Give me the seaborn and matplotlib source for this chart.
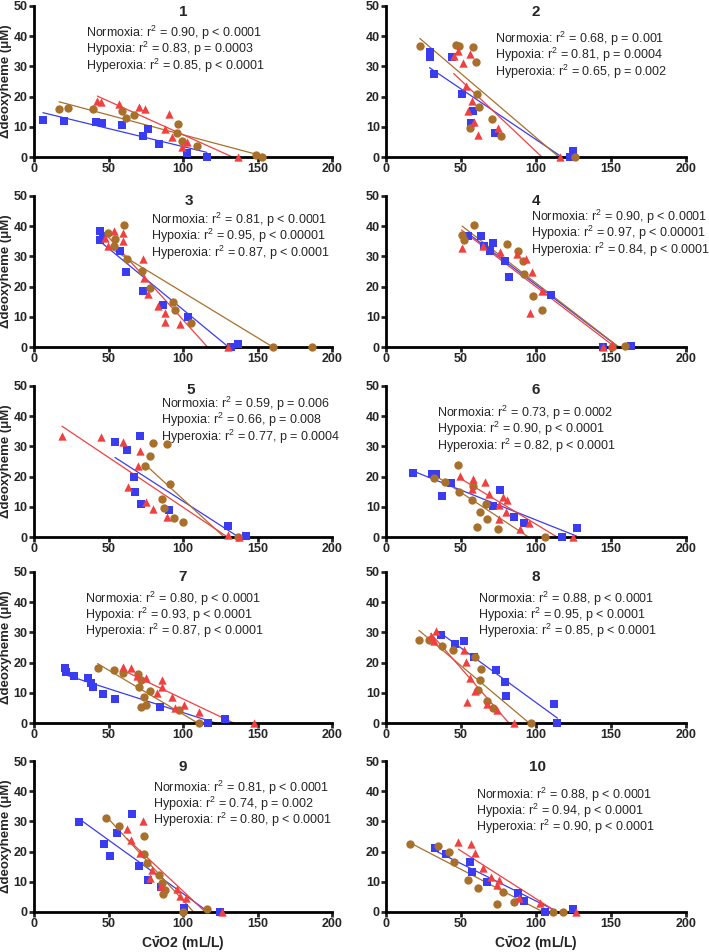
import matplotlib
matplotlib.use("Agg")
import matplotlib.pyplot as plt
import numpy as np
import pandas as pd
import seaborn as sns

# blue squares, brown circles, red triangles -- one sublist per panel (1..10)
square_x = [
    [6, 20, 41.4, 45.9, 59, 73, 76.7, 84, 102.5, 116],
    [29, 29.6, 31.9, 43.8, 50.4, 57.7, 56.4, 72.8, 122.8, 124.6],
    [44.1, 44.1, 46.3, 57.5, 62, 73.2, 86.8, 103.6, 132, 136.7],
    [54.9, 63.6, 65.6, 69.1, 71.1, 79.6, 82.2, 110.2, 144.7, 163.1],
    [54.4, 62.6, 71.1, 67.1, 67.8, 71.8, 90.8, 130, 142.3],
    [17.8, 30.9, 33.3, 37.6, 43.1, 71.1, 76, 85.1, 91.8, 117.6, 127.1],
    [20.8, 21.7, 26.6, 36.5, 38, 39.4, 46.3, 54.4, 84.6, 117, 128.2],
    [36.9, 45.9, 51.7, 58.4, 73.6, 79.6, 80.3, 111.9, 114.3],
    [30.4, 47, 51.2, 55.7, 65.8, 70.5, 76.7, 85, 100.4, 124.8],
    [32.4, 40.3, 56.2, 57.3, 67.3, 88.1, 92.2, 106.3, 124.8],
]
square_y = [
    [12.1, 11.9, 11.6, 11.3, 10.7, 6.9, 9.3, 4.3, 1.2, 0],
    [33.1, 34.8, 27.6, 33.1, 20.7, 15.2, 11.1, 7.8, 0, 2.1],
    [38.5, 35.4, 36.9, 31.7, 24.7, 18.4, 13.8, 10.0, 0, 1.1],
    [36.7, 36.9, 33.3, 31.7, 34.6, 28.4, 23.1, 17.1, 0, 0.4],
    [31.3, 28.7, 33.4, 19.8, 14.8, 10.9, 8.8, 3.8, 0.2],
    [21.2, 21.0, 20.8, 13.7, 18.0, 10.2, 15.7, 6.6, 4.7, 0, 3.0],
    [18.1, 17.0, 15.4, 15.0, 13.4, 12.0, 9.6, 7.8, 5.3, 0.1, 1.3],
    [29.3, 26.0, 27.2, 21.7, 17.5, 13.5, 8.9, 6.2, 0.1],
    [29.7, 22.6, 18.4, 26.3, 32.5, 15.1, 10.6, 8.4, 1.2, 0],
    [21.3, 19.3, 16.4, 13.3, 9.9, 6.2, 3.6, 0, 1.1],
]
circle_x = [
    [16.8, 22.8, 39.6, 59, 62, 67.3, 96.6, 95.7, 99.6, 109.4, 148.8, 153],
    [22.5, 46.9, 48.9, 58, 60, 60.8, 61.9, 56, 70.8, 76.8, 126.3],
    [49.7, 54.1, 53.9, 60.6, 62.6, 72.7, 77.9, 93.3, 94.9, 105.1, 160.2, 186.8],
    [50.7, 52, 58.9, 80.9, 88.2, 91.3, 92, 98, 104.2, 150.7, 159.3],
    [80.1, 89.3, 77.6, 74.7, 91, 86.1, 87, 93.7, 99.8, 137.1],
    [31.8, 39.6, 48.2, 48.7, 57.1, 57.8, 62.4, 66.4, 67.1, 60.9, 74.7, 106],
    [42.7, 53.5, 60, 70, 71.6, 70.7, 77.9, 74, 75.5, 71.6, 97.3, 110.7],
    [21.9, 28.9, 37.6, 44.5, 59.3, 63.3, 62.9, 61.1, 67.6, 71.6, 96.9],
    [48.3, 57, 73.6, 73.8, 75.6, 83.7, 85.9, 86.4, 88.1, 100, 116.1],
    [15.7, 34.7, 41.8, 45.6, 54.8, 61.1, 78.3, 73.8, 85, 111, 117.7],
]
circle_y = [
    [16.0, 16.2, 15.9, 15.1, 12.8, 14.0, 11.0, 7.9, 5.3, 3.5, 0.8, 0],
    [36.8, 37.0, 36.8, 36.5, 31.4, 20.9, 16.4, 9.7, 12.6, 6.9, 0],
    [37.6, 35.7, 33.4, 40.3, 29.2, 25.1, 19.6, 14.8, 12.3, 7.8, 0, 0],
    [37.1, 35.4, 40.4, 34.0, 31.7, 28.4, 24.3, 17.0, 12.3, 0, 0.4],
    [31.1, 30.7, 26.7, 23.5, 17.4, 12.5, 9.5, 6.4, 5.0, 0],
    [19.6, 18.3, 23.8, 14.9, 12.4, 17.0, 8.3, 10.9, 6.0, 3.4, 2.6, 0],
    [18.2, 17.7, 16.7, 16.1, 14.4, 12.0, 10.5, 8.6, 5.9, 5.3, 4.3, 0],
    [27.4, 27.5, 25.4, 24.1, 21.7, 17.8, 14.2, 10.8, 7.3, 5.0, 0],
    [31.1, 28.6, 25.3, 19.3, 16.1, 12.3, 9.6, 6.1, 7.2, 0, 1.0],
    [22.6, 21.7, 19.8, 16.5, 10.7, 8.0, 6.7, 2.5, 3.2, 0, 0],
]
triangle_x = [
    [42.5, 45.2, 56.8, 70.5, 74.7, 90.6, 88.1, 92.8, 99.6, 103, 136.7],
    [48, 45.1, 55.8, 51.3, 53.5, 57.5, 54.6, 58.6, 61.3, 74.6, 115.7],
    [47.9, 49.9, 53.9, 60, 60, 72.9, 73.8, 76.5, 83, 87.9, 88.1, 97.8, 130],
    [50.4, 64.9, 76, 87.3, 93.3, 97.1, 103.8, 95.8, 150.4, 144.7],
    [18.8, 45, 59.7, 71.4, 69.6, 62.9, 74.9, 79.9, 89, 130.2, 137.8],
    [49.3, 58.2, 57.1, 66, 68.9, 78, 80.7, 75, 79.8, 75.6, 89.3, 95.6, 124.9],
    [59.5, 64.9, 75.4, 69.4, 85.9, 85.7, 82.8, 92.8, 94.6, 100.4, 110.7, 147.9],
    [29.8, 33.1, 32, 51.7, 53, 56.2, 59.5, 54.1, 67.3, 74, 85.5],
    [62.4, 65.3, 70.9, 73.4, 79.4, 77.9, 85.2, 95.7, 98, 101.8, 126.4],
    [48.3, 56.4, 59, 64.4, 70.2, 75.4, 73.8, 88.4, 102.5, 126.8],
]
triangle_y = [
    [18.6, 18.1, 17.5, 16.6, 15.9, 14.4, 9.4, 6.7, 3.3, 5.1, 0],
    [35.1, 33.5, 34.0, 31.1, 23.5, 18.6, 15.2, 11.7, 7.3, 9.6, 0],
    [36.2, 33.5, 38.4, 37.6, 35.1, 29.1, 23.0, 17.4, 13.7, 11.1, 8.4, 7.6, 0],
    [32.7, 33.6, 31.3, 30.7, 29.3, 25.0, 18.7, 11.2, 0.7, 0],
    [33.4, 33.1, 31.3, 28.5, 23.5, 16.4, 11.7, 9.4, 6.7, 0.6, 0],
    [20.2, 19.3, 16.0, 18.3, 14.3, 13.1, 12.2, 10.7, 8.2, 6.0, 2.8, 4.5, 0],
    [18.5, 18.3, 15.0, 15.6, 14.2, 11.9, 9.8, 8.6, 5.0, 5.9, 3.6, 0],
    [28.7, 30.3, 27.0, 24.2, 20.2, 15.0, 10.7, 6.9, 6.3, 4.2, 0],
    [27.4, 23.7, 19.5, 30.0, 13.9, 11.3, 8.7, 7.5, 5.2, 4.6, 0],
    [23.1, 22.4, 19.6, 14.6, 11.7, 10.5, 8.8, 4.5, 3.1, 0],
]

normoxia_r2 = [0.90, 0.68, 0.81, 0.90, 0.59, 0.73, 0.80, 0.88, 0.81, 0.88]
normoxia_p = ["< 0.0001", "= 0.001", "< 0.0001", "< 0.0001", "= 0.006",
              "= 0.0002", "< 0.0001", "< 0.0001", "< 0.0001", "< 0.0001"]
hypoxia_r2 = [0.83, 0.81, 0.95, 0.97, 0.66, 0.90, 0.93, 0.95, 0.74, 0.94]
hypoxia_p = ["= 0.0003", "= 0.0004", "< 0.00001", "< 0.00001", "= 0.008",
             "< 0.0001", "< 0.0001", "< 0.0001", "= 0.002", "< 0.0001"]
hyperoxia_r2 = [0.85, 0.65, 0.87, 0.84, 0.77, 0.82, 0.87, 0.85, 0.80, 0.90]
hyperoxia_p = ["< 0.0001", "= 0.002", "< 0.0001", "< 0.0001", "= 0.0004",
               "< 0.0001", "< 0.0001", "< 0.0001", "< 0.0001", "< 0.0001"]

panel_labels = [str(i) for i in range(1, 11)]

# layout (pixels of a 709x952 figure) and text anchors (data units)
ROW_TOP = [6, 196, 386, 572, 761]
COL_LEFT = [34, 386]
AX_W = [298, 300]
AX_H = 151
TITLE_X = [100, 100, 104, 100, 105, 100, 100, 100, 100, 101]
TITLE_Y = [48.0, 48.0, 48.3, 48.3, 48.6, 48.6, 48.3, 48.3, 48.0, 48.0]
STATS_XY = [(34.7, 41), (72.8, 39), (78.7, 42), (96.4, 43), (85.5, 44.0),
            (34.2, 41), (34.2, 41.1), (61.5, 41.1), (80.1, 41.1), (60.2, 38.9)]

BLUE = "#3a3cf2"
BROWN = "#a8702a"
RED = "#f04040"

sns.set_style("ticks")
plt.rcParams["font.family"] = ["Liberation Sans", "DejaVu Sans"]
plt.rcParams["mathtext.fontset"] = "custom"
plt.rcParams["mathtext.rm"] = "Liberation Sans"
plt.rcParams["mathtext.it"] = "Liberation Sans:italic"
plt.rcParams["mathtext.bf"] = "Liberation Sans:bold"
plt.rcParams["mathtext.default"] = "regular"

W, H = 709, 952
fig = plt.figure(figsize=(W / 100, H / 100), dpi=100)

series = [
    (square_x, square_y, "s", BLUE),
    (circle_x, circle_y, "o", BROWN),
    (triangle_x, triangle_y, "^", RED),
]

for i in range(10):
    row, col = divmod(i, 2)
    left = COL_LEFT[col] / W
    bottom = 1 - (ROW_TOP[row] + AX_H) / H
    ax = fig.add_axes([left, bottom, AX_W[col] / W, AX_H / H])

    for xs, ys, marker, color in series:
        df = pd.DataFrame({"x": xs[i], "y": ys[i]})
        sns.regplot(data=df, x="x", y="y", ax=ax, ci=None, scatter=False,
                    truncate=True, color=color, line_kws={"lw": 0.9})
    for xs, ys, marker, color in series:
        df = pd.DataFrame({"x": xs[i], "y": ys[i]})
        sns.scatterplot(data=df, x="x", y="y", ax=ax, marker=marker,
                        color=color, s=36, linewidth=0, clip_on=False, zorder=3)

    ax.set_xlim(0, 200)
    ax.set_ylim(0, 50)
    ax.set_xticks(np.arange(0, 201, 50))
    ax.set_yticks(np.arange(0, 51, 10))
    sns.despine(ax=ax)
    for side in ("left", "bottom"):
        ax.spines[side].set_linewidth(2.0)
        ax.spines[side].set_color("black")
    ax.tick_params(axis="both", length=3.5, width=2.0, labelsize=9, pad=1)
    for lab in ax.get_xticklabels() + ax.get_yticklabels():
        lab.set_fontweight("bold")

    ax.set_xlabel("")
    ax.set_ylabel("")
    if col == 0:
        ax.set_ylabel("\u0394deoxyheme (\u03bcM)", fontsize=9.5, fontweight="bold", labelpad=1)
    if row == 4:
        ax.set_xlabel(r"C$\bar{v}$O2 (mL/L)", fontsize=10, fontweight="bold", labelpad=3)

    ax.text(TITLE_X[i], TITLE_Y[i], panel_labels[i], ha="center", va="center",
            fontsize=11, fontweight="bold")
    sx, sy = STATS_XY[i]
    lines = [
        f"Normoxia: r$^2$ = {normoxia_r2[i]:.2f}, p {normoxia_p[i]}",
        f"Hypoxia: r$^2$ = {hypoxia_r2[i]:.2f}, p {hypoxia_p[i]}",
        f"Hyperoxia: r$^2$ = {hyperoxia_r2[i]:.2f}, p {hyperoxia_p[i]}",
    ]
    for k, txt in enumerate(lines):
        ax.text(sx, sy - 5.35 * k, txt, ha="left", va="center",
                fontsize=9, color="#262626")

fig.savefig("out.png", dpi=100)
